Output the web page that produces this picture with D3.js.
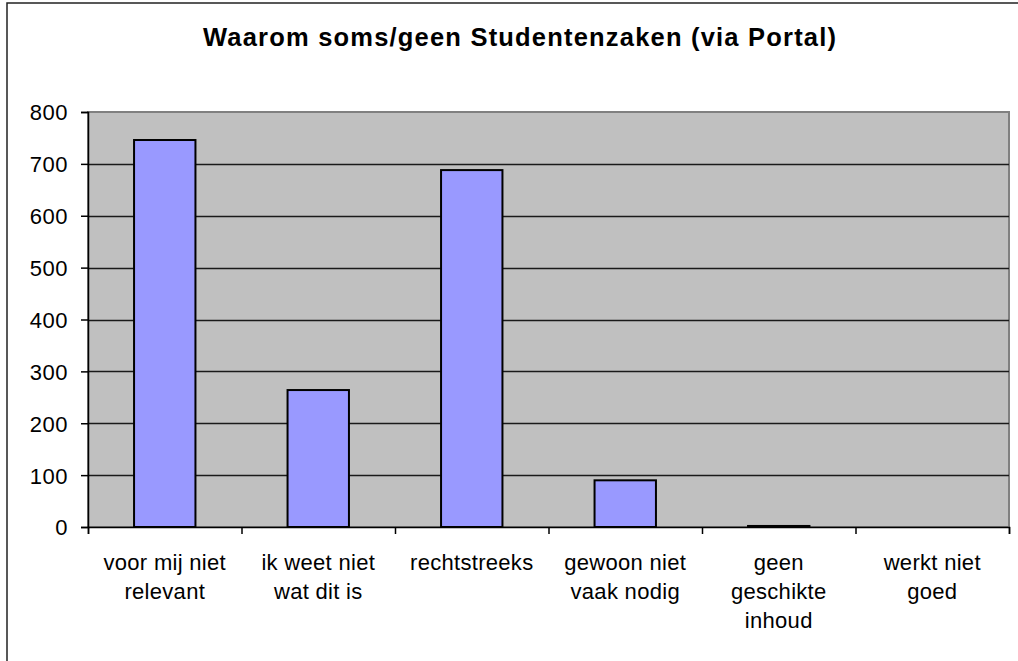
<!DOCTYPE html>
<html>
<head>
<meta charset="utf-8">
<script src="https://cdn.jsdelivr.net/npm/d3@7"></script>
<style>
  html, body { margin: 0; padding: 0; background: #fff; }
  svg { display: block; }
  text { font-family: "Liberation Sans", Arial, sans-serif; fill: #000; }
</style>
</head>
<body>
<svg id="chart" width="1018" height="661"></svg>
<script>
const title = "Waarom soms/geen Studentenzaken (via Portal)";
const categories = [
  ["voor mij niet", "relevant"],
  ["ik weet niet", "wat dit is"],
  ["rechtstreeks"],
  ["gewoon niet", "vaak nodig"],
  ["geen", "geschikte", "inhoud"],
  ["werkt niet", "goed"]
];
const values = [746, 264, 688, 90, 2, 0];
const yTicks = [0, 100, 200, 300, 400, 500, 600, 700, 800];

const svg = d3.select("#chart");
const plot = { left: 88, top: 112, right: 1009, bottom: 527 };

// outer chart border
svg.append("rect")
  .attr("x", 7).attr("y", 3)
  .attr("width", 1040).attr("height", 700)
  .attr("fill", "#fff").attr("stroke", "#222").attr("stroke-width", 1.5);

// title
svg.append("text")
  .attr("x", 519.5).attr("y", 46)
  .attr("text-anchor", "middle")
  .attr("font-size", 25.5).attr("font-weight", "bold")
  .attr("textLength", 633).attr("lengthAdjust", "spacing")
  .text(title);

const x = d3.scaleBand()
  .domain(d3.range(categories.length))
  .range([plot.left, plot.right])
  .paddingInner(0.6).paddingOuter(0.3);
const xOuter = d3.scaleBand()
  .domain(d3.range(categories.length))
  .range([plot.left, plot.right]);
const y = d3.scaleLinear().domain([0, 800]).range([plot.bottom, plot.top]);

// plot area background
svg.append("rect")
  .attr("x", plot.left).attr("y", plot.top)
  .attr("width", plot.right - plot.left).attr("height", plot.bottom - plot.top)
  .attr("fill", "#c0c0c0").attr("stroke", "#808080").attr("stroke-width", 2);

// gridlines
svg.append("g").selectAll("line")
  .data(yTicks.filter(d => d > 0 && d < 800))
  .join("line")
  .attr("x1", plot.left).attr("x2", plot.right)
  .attr("y1", d => Math.round(y(d)) + 0.5).attr("y2", d => Math.round(y(d)) + 0.5)
  .attr("stroke", "#1a1a1a").attr("stroke-width", 1.5);

// bars
svg.append("g").selectAll("rect")
  .data(values)
  .join("rect")
  .attr("x", (d, i) => x(i))
  .attr("width", x.bandwidth())
  .attr("y", d => y(d))
  .attr("height", d => y(0) - y(d))
  .attr("fill", "#9999ff")
  .attr("stroke", "#000").attr("stroke-width", 2);

// y axis
const yAxis = d3.axisLeft(y).tickValues(yTicks).tickSize(7).tickPadding(13);
const yg = svg.append("g").attr("transform", `translate(${plot.left},0)`).call(yAxis);
yg.select(".domain").attr("stroke", "#000").attr("stroke-width", 1.5);
yg.selectAll(".tick line").attr("stroke", "#000").attr("stroke-width", 1.5);
yg.selectAll(".tick text").attr("font-size", 22).attr("fill", "#000")
  .attr("letter-spacing", 0.5)
  .attr("font-family", "'Liberation Sans', Arial, sans-serif").attr("dy", "0.36em");

// x axis
const xAxis = d3.axisBottom(d3.scaleLinear().domain([0, categories.length]).range([plot.left, plot.right]))
  .tickValues(d3.range(categories.length + 1)).tickSize(7).tickFormat("");
const xg = svg.append("g").attr("transform", `translate(0,${plot.bottom})`).call(xAxis);
xg.select(".domain").attr("stroke", "#000").attr("stroke-width", 1.5);
xg.selectAll(".tick line").attr("stroke", "#000").attr("stroke-width", 1.5);

// category labels
const lab = svg.append("g");
categories.forEach((lines, i) => {
  const cx = xOuter(i) + xOuter.bandwidth() / 2;
  const t = lab.append("text")
    .attr("x", cx)
    .attr("y", 570)
    .attr("text-anchor", "middle")
    .attr("font-size", 22)
    .attr("letter-spacing", 0.3);
  lines.forEach((ln, j) => {
    t.append("tspan")
      .attr("x", cx)
      .attr("y", 570 + j * 29)
      .text(ln);
  });
});
</script>
</body>
</html>
